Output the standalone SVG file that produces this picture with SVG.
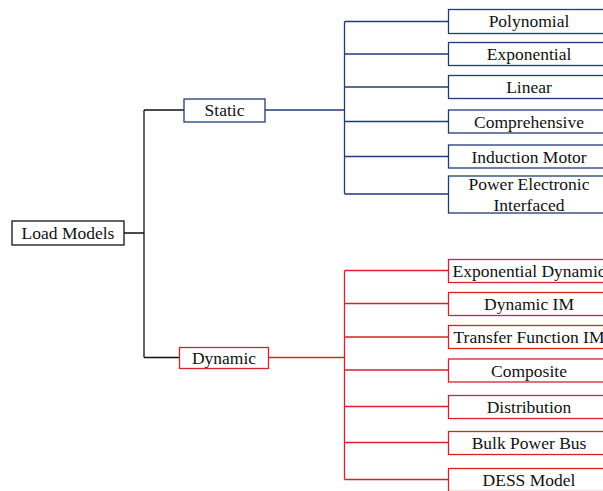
<svg xmlns="http://www.w3.org/2000/svg" width="603" height="491" viewBox="0 0 603 491">
<style>
svg g[id] text, svg text.t{font-family:"Liberation Serif",serif !important;font-size:17.5px !important;fill:#111;text-anchor:middle}
svg g[id] rect{fill:#fff;stroke-width:1.3}
</style>
<rect width="603" height="491" fill="#fff"/>
<g id="connectors" fill="none" stroke-width="1.3">
<path stroke="#111" d="M124 233H144M144 110V357.5M144 110H184M144 357.5H179.5"/>
<path stroke="#1f3b78" d="M265 110H344.5M344.5 21.5V194M344.5 21.5H448.5M344.5 54H448.5M344.5 87H448.5M344.5 121.5H448.5M344.5 156.5H448.5M344.5 194H448.5"/>
<path stroke="#d4242a" d="M268.5 357.5H344.5M344.5 270.5V479.5M344.5 270.5H448.5M344.5 303.5H448.5M344.5 337H448.5M344.5 370H448.5M344.5 406.5H448.5M344.5 442.5H448.5M344.5 479.5H448.5"/>
</g>
<g id="load-models"><rect x="12" y="221" width="112" height="24" fill="#fff" stroke="#111" stroke-width="1.3"/><text class="t" x="68" y="239" style="font-family:'Liberation Serif',serif">Load Models</text></g>
<g id="static"><rect x="184" y="99" width="81" height="23" fill="#fff" stroke="#1f3b78" stroke-width="1.3"/><text class="t" x="224.5" y="116" style="font-family:'Liberation Serif',serif">Static</text></g>
<g id="dynamic"><rect x="179.5" y="347.5" width="89" height="21" fill="#fff" stroke="#d4242a" stroke-width="1.3"/><text class="t" x="224" y="363.5" style="font-family:'Liberation Serif',serif">Dynamic</text></g>
<g id="polynomial"><rect x="448.5" y="9.5" width="162" height="24" fill="#fff" stroke="#1f3b78" stroke-width="1.3"/><text class="t" x="529" y="27" style="font-family:'Liberation Serif',serif">Polynomial</text></g>
<g id="exponential"><rect x="448.5" y="42.5" width="162" height="23" fill="#fff" stroke="#1f3b78" stroke-width="1.3"/><text class="t" x="529" y="60" style="font-family:'Liberation Serif',serif">Exponential</text></g>
<g id="linear"><rect x="448.5" y="75.5" width="162" height="23" fill="#fff" stroke="#1f3b78" stroke-width="1.3"/><text class="t" x="529" y="93" style="font-family:'Liberation Serif',serif">Linear</text></g>
<g id="comprehensive"><rect x="448.5" y="110" width="162" height="23" fill="#fff" stroke="#1f3b78" stroke-width="1.3"/><text class="t" x="529" y="127.5" style="font-family:'Liberation Serif',serif">Comprehensive</text></g>
<g id="induction-motor"><rect x="448.5" y="145" width="162" height="23" fill="#fff" stroke="#1f3b78" stroke-width="1.3"/><text class="t" x="529" y="162.5" style="font-family:'Liberation Serif',serif">Induction Motor</text></g>
<g id="power-electronic"><rect x="448.5" y="176" width="162" height="37" fill="#fff" stroke="#1f3b78" stroke-width="1.3"/><text class="t" x="529" y="190" style="font-family:'Liberation Serif',serif">Power Electronic</text><text class="t" x="529" y="211" style="font-family:'Liberation Serif',serif">Interfaced</text></g>
<g id="exponential-dynamic"><rect x="448.5" y="259.5" width="162" height="23" fill="#fff" stroke="#d4242a" stroke-width="1.3"/><text class="t" x="529" y="277" style="font-family:'Liberation Serif',serif">Exponential Dynamic</text></g>
<g id="dynamic-im"><rect x="448.5" y="292.5" width="162" height="23" fill="#fff" stroke="#d4242a" stroke-width="1.3"/><text class="t" x="529" y="310" style="font-family:'Liberation Serif',serif">Dynamic IM</text></g>
<g id="transfer-function-im"><rect x="448.5" y="325.5" width="162" height="23" fill="#fff" stroke="#d4242a" stroke-width="1.3"/><text class="t" x="529" y="343" style="font-family:'Liberation Serif',serif">Transfer Function IM</text></g>
<g id="composite"><rect x="448.5" y="359" width="162" height="23" fill="#fff" stroke="#d4242a" stroke-width="1.3"/><text class="t" x="529" y="376.5" style="font-family:'Liberation Serif',serif">Composite</text></g>
<g id="distribution"><rect x="448.5" y="395.5" width="162" height="23" fill="#fff" stroke="#d4242a" stroke-width="1.3"/><text class="t" x="529" y="413" style="font-family:'Liberation Serif',serif">Distribution</text></g>
<g id="bulk-power-bus"><rect x="448.5" y="431.5" width="162" height="23" fill="#fff" stroke="#d4242a" stroke-width="1.3"/><text class="t" x="529" y="449" style="font-family:'Liberation Serif',serif">Bulk Power Bus</text></g>
<g id="dess-model"><rect x="448.5" y="468.5" width="162" height="23" fill="#fff" stroke="#d4242a" stroke-width="1.3"/><text class="t" x="529" y="486" style="font-family:'Liberation Serif',serif">DESS Model</text></g>
</svg>
